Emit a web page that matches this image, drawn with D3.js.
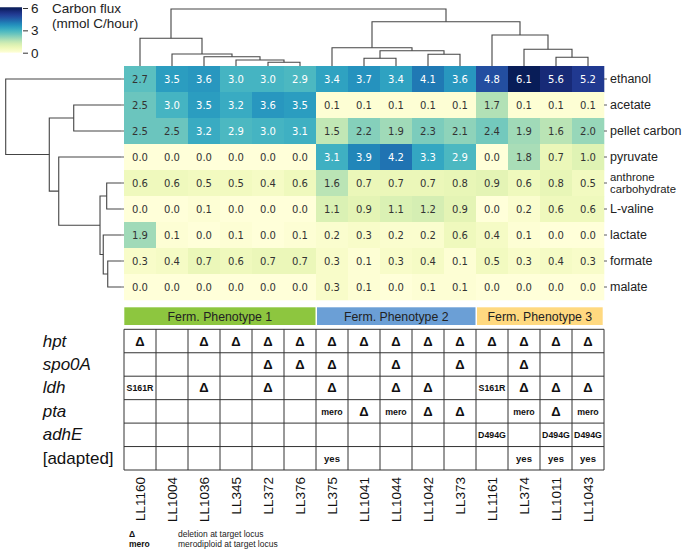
<!DOCTYPE html>
<html><head><meta charset="utf-8">
<script src="https://cdn.jsdelivr.net/npm/d3@7"></script>
<style>body{margin:0;background:#fff}svg{display:block}</style>
</head><body>
<svg id="c" width="685" height="550"></svg>
<script>
// ---------------- DATA ----------------
const strains = ["LL1160","LL1004","LL1036","LL345","LL372","LL376","LL375","LL1041","LL1044","LL1042","LL373","LL1161","LL374","LL1011","LL1043"];
const metabolites = ["ethanol","acetate","pellet carbon","pyruvate","anthrone\ncarbohydrate","L-valine","lactate","formate","malate"];
const ethanol      = [2.7,3.5,3.6,3.0,3.0,2.9,3.4,3.7,3.4,4.1,3.6,4.8,6.1,5.6,5.2];
const acetate      = [2.5,3.0,3.5,3.2,3.6,3.5,0.1,0.1,0.1,0.1,0.1,1.7,0.1,0.1,0.1];
const pelletCarbon = [2.5,2.5,3.2,2.9,3.0,3.1,1.5,2.2,1.9,2.3,2.1,2.4,1.9,1.6,2.0];
const pyruvate     = [0.0,0.0,0.0,0.0,0.0,0.0,3.1,3.9,4.2,3.3,2.9,0.0,1.8,0.7,1.0];
const anthrone     = [0.6,0.6,0.5,0.5,0.4,0.6,1.6,0.7,0.7,0.7,0.8,0.9,0.6,0.8,0.5];
const lValine      = [0.0,0.0,0.1,0.0,0.0,0.0,1.1,0.9,1.1,1.2,0.9,0.0,0.2,0.6,0.6];
const lactate      = [1.9,0.1,0.0,0.1,0.0,0.1,0.2,0.3,0.2,0.2,0.6,0.4,0.1,0.0,0.0];
const formate      = [0.3,0.4,0.7,0.6,0.7,0.7,0.3,0.1,0.3,0.4,0.1,0.5,0.3,0.4,0.3];
const malate       = [0.0,0.0,0.0,0.0,0.0,0.0,0.3,0.1,0.0,0.1,0.1,0.0,0.0,0.0,0.0];
const fluxRows = [ethanol,acetate,pelletCarbon,pyruvate,anthrone,lValine,lactate,formate,malate];
const colorTicks = [0,3,6];

// column dendrogram merges [childA, childB, distance] (scipy style: index >= n refers to earlier merge)
const colLinkage = [[4,5,0.065],[3,15,0.105],[2,16,0.163],[1,17,0.21],[0,18,0.486],
  [7,8,0.135],[9,10,0.205],[20,21,0.268],[6,22,0.321],
  [13,14,0.153],[12,24,0.293],[11,25,0.544],[23,26,0.777],[19,27,1.0]];
const rowLinkage = [[1,2,0.41],[4,5,0.124],[7,8,0.115],[6,11,0.154],[10,12,0.182],[3,13,0.54],[9,14,0.622],[0,15,1.0]];

const phenotypes = ["Ferm. Phenotype 1","Ferm. Phenotype 2","Ferm. Phenotype 3"];
const phenotypeStart = [0,6,11];
const phenotypeEnd = [5,10,14];

const genes = ["hpt","spo0A","ldh","pta","adhE","[adapted]"];
const hpt    = ["Δ","","Δ","Δ","Δ","Δ","Δ","Δ","Δ","Δ","Δ","Δ","Δ","Δ","Δ"];
const spo0A  = ["","","","","Δ","Δ","Δ","","Δ","","Δ","","Δ","",""];
const ldh    = ["S161R","","Δ","","Δ","","Δ","","Δ","Δ","","S161R","Δ","Δ","Δ"];
const pta    = ["","","","","","","mero","Δ","mero","Δ","Δ","","mero","Δ","mero"];
const adhE   = ["","","","","","","","","","","","D494G","","D494G","D494G"];
const adapted= ["","","","","","","yes","","","","","","yes","yes","yes"];
const genotypeRows = [hpt,spo0A,ldh,pta,adhE,adapted];
const footnoteKeys = ["Δ","mero"];
const footnoteText = ["deletion at target locus","merodiploid at target locus"];

// ---------------- DRAW ----------------
const svg = d3.select("#c");
const SANS = "'Liberation Sans', Arial, sans-serif";
const DV = "'DejaVu Sans', sans-serif";

const hmLeft=124, hmRight=604, hmTop=66, hmBottom=300;
const x = d3.scaleBand().domain(d3.range(strains.length)).range([hmLeft,hmRight]);
const y = d3.scaleBand().domain(d3.range(metabolites.length)).range([hmTop,hmBottom]);
const color = d3.scaleSequential(d3.interpolateYlGnBu).domain([0,6]);

function lum(c){
  const r=d3.rgb(c);
  const f=v=>{v/=255;return v<=0.03928?v/12.92:Math.pow((v+0.055)/1.055,2.4);};
  return 0.2126*f(r.r)+0.7152*f(r.g)+0.0722*f(r.b);
}

const cells=[];
fluxRows.forEach((row,ri)=>row.forEach((v,ci)=>cells.push({ri,ci,v})));
const hm=svg.append("g");
hm.selectAll("rect").data(cells).join("rect")
  .attr("x",d=>x(d.ci)).attr("y",d=>y(d.ri))
  .attr("width",x.bandwidth()+0.3).attr("height",y.bandwidth()+0.3)
  .attr("fill",d=>color(d.v));
hm.selectAll("text").data(cells).join("text")
  .attr("x",d=>x(d.ci)+x.bandwidth()/2).attr("y",d=>y(d.ri)+y.bandwidth()/2)
  .attr("text-anchor","middle").attr("dominant-baseline","central")
  .attr("font-family",DV).attr("font-size",10)
  .attr("fill",d=>lum(color(d.v))>0.408?"#333":"#fff")
  .text(d=>d.v.toFixed(1));

// ticks on heatmap sides
const tickG=svg.append("g").attr("stroke","#333").attr("stroke-width",0.8);
metabolites.forEach((m,i)=>{
  const cy=y(i)+y.bandwidth()/2;
  tickG.append("line").attr("x1",hmLeft-3).attr("x2",hmLeft).attr("y1",cy).attr("y2",cy);
  tickG.append("line").attr("x1",hmRight).attr("x2",hmRight+3).attr("y1",cy).attr("y2",cy);
});

// row labels
metabolites.forEach((m,i)=>{
  const lines=m.split("\n");
  const cy=y(i)+y.bandwidth()/2;
  const t=svg.append("text").attr("font-family",SANS).attr("font-size",lines.length>1?11.3:12.5).attr("fill","#222");
  lines.forEach((l,k)=>{
    t.append("tspan").attr("x",hmRight+6)
     .attr("y",cy+(k-(lines.length-1)/2)*11.8)
     .attr("dominant-baseline","central").text(l);
  });
});

// dendrogram helper
function dendro(linkage,n,leafPos){
  const pos=[],h=[];
  for(let i=0;i<n;i++){pos[i]=leafPos(i);h[i]=0;}
  const segs=[];
  linkage.forEach((m,k)=>{
    const [a,b,d]=m; const id=n+k;
    pos[id]=(pos[a]+pos[b])/2; h[id]=d;
    segs.push({a:pos[a],ha:h[a],b:pos[b],hb:h[b],d});
  });
  return segs;
}
// column dendrogram
const colH=d3.scaleLinear().domain([0,1]).range([hmTop,9]);
const colSegs=dendro(colLinkage,strains.length,i=>x(i)+x.bandwidth()/2);
svg.append("g").selectAll("path").data(colSegs).join("path")
  .attr("d",s=>`M${s.a},${colH(s.ha)}V${colH(s.d)}H${s.b}V${colH(s.hb)}`)
  .attr("fill","none").attr("stroke","#444").attr("stroke-width",1.1);
// row dendrogram
const rowH=d3.scaleLinear().domain([0,1]).range([hmLeft-3,5.7]);
const rowSegs=dendro(rowLinkage,metabolites.length,i=>y(i)+y.bandwidth()/2);
svg.append("g").selectAll("path").data(rowSegs).join("path")
  .attr("d",s=>`M${rowH(s.ha)},${s.a}H${rowH(s.d)}V${s.b}H${rowH(s.hb)}`)
  .attr("fill","none").attr("stroke","#444").attr("stroke-width",1.1);

// color bar legend
const cbScale=d3.scaleLinear().domain([0,6]).range([52.7,8]);
const defs=svg.append("defs");
const grad=defs.append("linearGradient").attr("id","cbg").attr("x1",0).attr("x2",0).attr("y1",1).attr("y2",0);
d3.range(0,1.001,0.05).forEach(t=>grad.append("stop").attr("offset",t).attr("stop-color",color(t*6.1)));
svg.append("rect").attr("x",0).attr("y",cbScale(6.1)).attr("width",22)
  .attr("height",cbScale(0)-cbScale(6.1)).attr("fill","url(#cbg)");
const cbAxis=d3.axisRight(cbScale).tickValues(colorTicks).tickSize(5).tickPadding(3).tickFormat(d3.format("d"));
const cbg=svg.append("g").attr("transform","translate(23,0)").call(cbAxis);
cbg.select(".domain").remove();
cbg.selectAll("text").attr("font-family",SANS).attr("font-size",13.5).attr("fill","#222");
cbg.selectAll("line").attr("stroke","#333");
svg.append("text").attr("x",52).attr("y",12.5).attr("font-family",SANS).attr("font-size",13.5).attr("fill","#222").text("Carbon flux");
svg.append("text").attr("x",52).attr("y",28).attr("font-family",SANS).attr("font-size",13.5).attr("fill","#222").text("(mmol C/hour)");

// phenotype bars
const phenoColors=["#8dc63f","#6b9fd6","#ffd980"];
phenotypes.forEach((p,i)=>{
  const x0=x(phenotypeStart[i])+(i?1:0.3), x1=x(phenotypeEnd[i])+x.bandwidth()-(i<2?0.5:1.3);
  svg.append("rect").attr("x",x0).attr("y",307.3).attr("width",x1-x0).attr("height",17.7).attr("fill",phenoColors[i]);
  svg.append("text").attr("x",(x0+x1)/2).attr("y",316.5).attr("text-anchor","middle")
    .attr("dominant-baseline","central").attr("font-family",SANS).attr("font-size",12.3).attr("fill","#222").text(p);
});

// genotype table
const ty=d3.scaleBand().domain(d3.range(genes.length)).range([329.3,470]);
const tg=svg.append("g");
genotypeRows.forEach((row,ri)=>row.forEach((v,ci)=>{
  if(!v) return;
  const big=v==="Δ";
  tg.append("text").attr("x",x(ci)+x.bandwidth()/2).attr("y",ty(ri)+ty.bandwidth()/2+(big?0:0.5))
    .attr("text-anchor","middle").attr("dominant-baseline","central")
    .attr("font-family",SANS).attr("font-weight","bold").attr("font-size",big?13:(v==="yes"?9.5:8.8))
    .attr("fill","#111").text(v);
}));
const grid=svg.append("g").attr("stroke","#333").attr("stroke-width",1).attr("fill","none");
d3.range(strains.length+1).forEach(i=>{
  const xx=i<strains.length?x(i):hmRight;
  grid.append("line").attr("x1",xx).attr("x2",xx).attr("y1",329.3).attr("y2",470);
});
d3.range(genes.length+1).forEach(i=>{
  const yy=i<genes.length?ty(i):470;
  grid.append("line").attr("x1",hmLeft).attr("x2",hmRight).attr("y1",yy).attr("y2",yy);
});
genes.forEach((g,i)=>{
  svg.append("text").attr("x",42.7).attr("y",ty(i)+ty.bandwidth()/2)
    .attr("dominant-baseline","central").attr("font-family",SANS).attr("font-size",17)
    .attr("font-style",g.startsWith("[")?"normal":"italic").attr("fill","#111").text(g);
});

// strain labels
strains.forEach((s,i)=>{
  const cx=x(i)+x.bandwidth()/2;
  svg.append("text").attr("transform",`translate(${cx},477) rotate(-90)`)
    .attr("text-anchor","end").attr("dominant-baseline","central")
    .attr("font-family",SANS).attr("font-size",13.5).attr("fill","#111").text(s);
});

// footnote
footnoteKeys.forEach((k,i)=>{
  svg.append("text").attr("x",129).attr("y",537+i*10).attr("font-family",SANS).attr("font-weight","bold")
    .attr("font-size",8.5).attr("fill","#111").text(k);
  svg.append("text").attr("x",178).attr("y",537+i*10).attr("font-family",SANS)
    .attr("font-size",8.5).attr("fill","#222").text(footnoteText[i]);
});
</script>
</body></html>
